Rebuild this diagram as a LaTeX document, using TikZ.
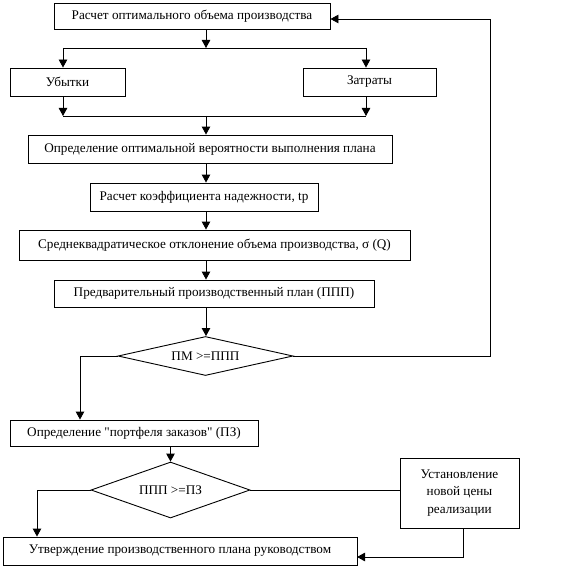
\documentclass[tikz,border=0pt]{standalone}
\usepackage{fontspec}
\setmainfont{Liberation Serif}[Ligatures=TeXOff]
\usetikzlibrary{arrows.meta,shapes.geometric,calc}
\begin{document}
\begin{tikzpicture}[x=1pt,y=-1pt,line width=0.9pt,
  box/.style={draw,rectangle,inner sep=0pt,align=center,font=\fontsize{13.2}{17.5}\selectfont},
  dia/.style={draw,diamond,inner sep=0pt,font=\fontsize{13.2}{16}\selectfont},
  arr/.style={-{Triangle[length=8pt,width=8.5pt]}}]
\useasboundingbox (0,0) rectangle (565,567);
\node[box,minimum width=276pt,minimum height=26pt] (b1) at (192,16) {Расчет оптимального объема производства};
\node[box,minimum width=115pt,minimum height=28pt] (ub) at (67.5,82) {Убытки};
\node[box,minimum width=133pt,minimum height=28pt] (za) at (369.5,82) {Затраты};
\node[box,minimum width=364pt,minimum height=28pt] (b3) at (210,149) {Определение оптимальной вероятности выполнения  плана};
\node[box,minimum width=228pt,minimum height=28pt] (b4) at (204,197) {Расчет коэффициента надежности, tp};
\node[box,minimum width=391pt,minimum height=30pt] (b5) at (214.5,245) {Среднеквадратическое отклонение объема производства, σ (Q)};
\node[box,minimum width=320pt,minimum height=27pt] (b6) at (214,293.5) {Предварительный производственный план (ППП)};
\node[dia,aspect=4.5,minimum width=175pt,minimum height=39pt] (d1) at (205.5,356) {ПМ >=ППП};
\node[box,minimum width=248pt,minimum height=26pt] (b7) at (134,433) {Определение "портфеля заказов" (ПЗ)};
\node[dia,aspect=2.8,minimum width=159pt,minimum height=56pt] (d2) at (170.5,490) {ППП >=ПЗ};
\node[box,minimum width=119pt,minimum height=70pt] (b9) at (459.5,493) {Установление\\новой цены\\реализации};
\node[box,minimum width=354pt,minimum height=28pt] (b8) at (180,551) {Утверждение производственного плана руководством};
\coordinate (j1) at (206,48);
\coordinate (j2) at (206,116);
\coordinate (ua) at (63,48);
\coordinate (zb) at (366,48);
\coordinate (lp) at (490,19);
\coordinate (r8) at (357,557);
\draw[arr] (b1.south -| j1) -- (j1);
\draw (ua) -- (zb);
\draw[arr] (ua) -- (ua |- ub.north);
\draw[arr] (zb) -- (zb |- za.north);
\draw[arr] (ub.south -| ua) -- (ua |- j2);
\draw[arr] (za.south -| zb) -- (zb |- j2);
\draw (ua |- j2) -- (zb |- j2);
\draw[arr] (j2) -- (b3.north -| j2);
\draw[arr] (b3.south -| j2) -- (b4.north -| j2);
\draw[arr] (b4.south -| j2) -- (b5.north -| j2);
\draw[arr] (b5.south -| j2) -- (b6.north -| j2);
\draw[arr] (b6.south -| j2) -- (d1.north -| j2);
\draw[arr] (d1.east) -| (lp) -- (b1.east |- lp);
\draw[arr] (d1.west) -| ([xshift=-54pt]b7.north);
\draw[arr] (b7.south -| d2.north) -- (d2.north);
\draw[arr] (d2.west) -| ([xshift=-143pt]b8.north);
\draw (d2.east) -- (d2.east -| b9.west);
\draw[arr] ([xshift=3.5pt]b9.south) |- (r8);
\end{tikzpicture}
\end{document}
